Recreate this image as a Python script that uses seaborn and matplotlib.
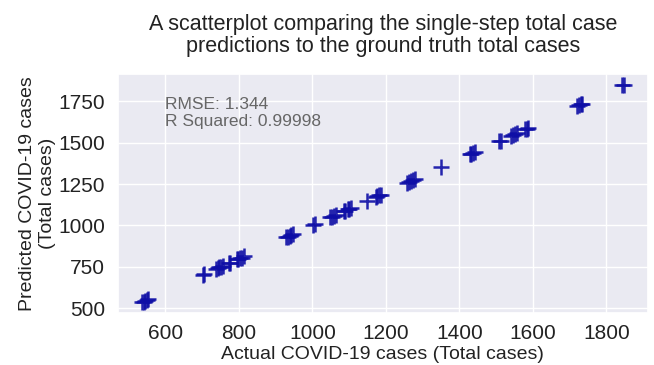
import matplotlib
matplotlib.use("Agg")
import matplotlib.pyplot as plt
import seaborn as sns
import pandas as pd

actual = [536, 541, 545, 549, 553,
          702, 706,
          738, 742, 747, 752, 757,
          772, 776,
          795, 799, 804, 808, 813,
          928, 933, 938, 942, 947,
          1001, 1007,
          1048, 1053, 1058, 1063,
          1085, 1090, 1096, 1101, 1106,
          1148,
          1172, 1177, 1182, 1187,
          1258, 1263, 1268, 1273, 1278,
          1350,
          1428, 1433, 1438, 1443,
          1508, 1513,
          1541, 1546, 1552, 1557,
          1578, 1583, 1588,
          1720, 1725, 1730, 1735,
          1843, 1848]
predicted = [537, 540, 546, 548, 554,
             703, 705,
             739, 741, 748, 751, 758,
             773, 775,
             796, 798, 805, 807, 814,
             929, 932, 939, 941, 948,
             1002, 1006,
             1049, 1052, 1059, 1062,
             1086, 1089, 1097, 1100, 1107,
             1149,
             1173, 1176, 1183, 1186,
             1259, 1262, 1269, 1272, 1279,
             1351,
             1429, 1432, 1439, 1442,
             1509, 1512,
             1542, 1545, 1553, 1556,
             1579, 1582, 1589,
             1721, 1724, 1731, 1734,
             1844, 1847]
metrics_text = "RMSE: 1.344\nR Squared: 0.99998"
title = "A scatterplot comparing the single-step total case\npredictions to the ground truth total cases"

sns.set_theme(style="darkgrid")
plt.rcParams['font.family'] = ['Liberation Sans', 'DejaVu Sans']

df = pd.DataFrame({"actual": actual, "predicted": predicted})

fig = plt.figure(figsize=(6.54, 3.65), dpi=100)
ax = fig.add_axes([0.180, 0.142, 0.811, 0.655])
sns.scatterplot(data=df, x="actual", y="predicted", ax=ax, marker="+",
                s=130, color="#0e0ea6", linewidth=1.8, alpha=0.9)
ax.set_xticks([600, 800, 1000, 1200, 1400, 1600, 1800])
ax.set_yticks([500, 750, 1000, 1250, 1500, 1750])
ax.tick_params(axis="x", labelsize=15, colors="#222222", pad=2)
ax.tick_params(axis="y", labelsize=15, colors="#222222", pad=3)
ax.set_xlabel("Actual COVID-19 cases (Total cases)", fontsize=14, color="#222222", labelpad=2)
ax.set_ylabel("Predicted COVID-19 cases\n(Total cases)", fontsize=14, color="#222222", labelpad=2)
ax.set_title(title, fontsize=15.5, color="#222222", pad=16, linespacing=1.05)
ax.text(600, 1600, metrics_text, fontsize=12.5, color="#666666")

fig.savefig("out.png", dpi=100)
